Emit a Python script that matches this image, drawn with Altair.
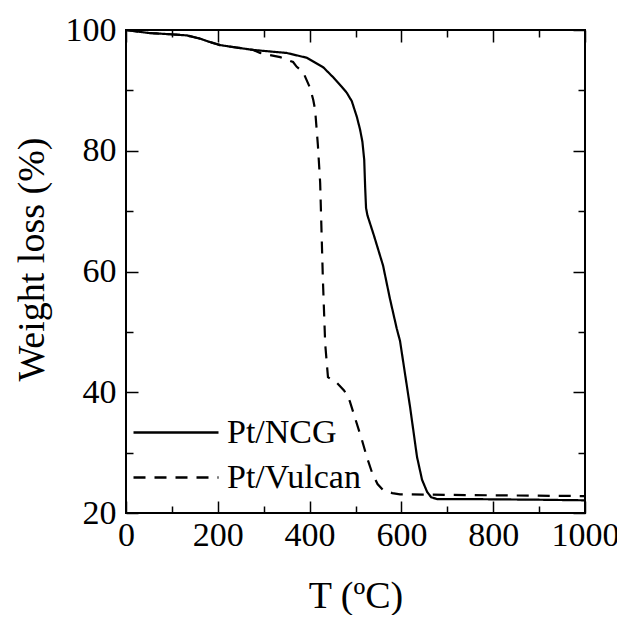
import altair as alt
import pandas as pd

series_names = ["Pt/NCG", "Pt/Vulcan"]

ncg_T = [0, 20, 50, 96, 133, 160, 183, 205, 240, 277, 320, 350, 394, 430, 451, 470, 481, 492, 503, 510, 515, 519, 521, 523, 526, 540, 560, 575, 590, 597, 608, 619, 634, 645, 656, 665, 678, 750, 900, 1000]
ncg_W = [100, 99.8, 99.5, 99.3, 99.1, 98.6, 98.0, 97.5, 97.1, 96.7, 96.4, 96.2, 95.4, 93.8, 92.2, 90.6, 89.6, 88.2, 85.6, 83.5, 81.5, 78.5, 74.0, 70.5, 69.3, 66.0, 61.0, 55.5, 50.5, 48.5, 43.0, 37.5, 29.3, 25.5, 23.5, 22.6, 22.3, 22.3, 22.2, 22.1]

vul_T = [0, 20, 50, 96, 133, 160, 183, 205, 240, 277, 292, 336, 364, 372, 386, 401, 408, 412, 418, 423, 429, 434, 440, 460, 475, 484, 488, 500, 514, 525, 536, 548, 560, 580, 597, 700, 1000]
vul_W = [100, 99.8, 99.5, 99.3, 99.1, 98.6, 98.0, 97.5, 97.1, 96.7, 96.2, 95.5, 94.7, 93.9, 93.0, 90.4, 88.4, 86.8, 81.0, 74.7, 58.6, 48.0, 42.5, 41.5, 40.3, 39.2, 38.4, 35.5, 32.1, 29.2, 26.7, 24.8, 23.8, 23.3, 23.1, 23.0, 22.8]

x_major = [0, 200, 400, 600, 800, 1000]
x_minor = [100, 300, 500, 700, 900]
y_major = [20, 40, 60, 80, 100]
y_minor = [30, 50, 70, 90]

df = pd.concat([
    pd.DataFrame({"T": ncg_T, "W": ncg_W, "series": series_names[0]}),
    pd.DataFrame({"T": vul_T, "W": vul_W, "series": series_names[1]}),
])

FONT = "Liberation Serif"
xs = alt.Scale(domain=[0, 1000], nice=False, zero=False)
ys = alt.Scale(domain=[20, 100], nice=False, zero=False)


def make_axis(values, size, orient, labels=False, title=None, label_pad=22, title_pad=20, **extra):
    kw = dict(values=values, orient=orient, domain=False, grid=False, labels=labels,
              tickSize=alt.ExprRef(expr=str(-size)), tickColor="black", tickWidth=1.5,
              labelFont=FONT, labelFontSize=34, labelColor="black", labelPadding=label_pad,
              labelFlush=False, labelOverlap=False, format="d")
    if title:
        kw.update(title=title, titleFont=FONT, titleFontSize=38, titleFontWeight="normal",
                  titleColor="black", titlePadding=title_pad)
    else:
        kw.update(title=None)
    kw.update(extra)
    return alt.Axis(**kw)


base = alt.Chart(df)

main = base.mark_line(color="black", strokeWidth=2.2).encode(
    x=alt.X("T:Q", scale=xs,
            axis=make_axis(x_major, 12, "bottom", labels=True, title="T (ºC)", label_pad=17, title_pad=25)),
    y=alt.Y("W:Q", scale=ys,
            axis=make_axis(y_major, 12, "left", labels=True, title="Weight loss (%)", label_pad=22,
                           title_pad=14, titleY=229)),
    strokeDash=alt.StrokeDash(
        "series:N",
        scale=alt.Scale(domain=series_names, range=[[1, 0], [12, 9]]),
        legend=alt.Legend(
            title=None, orient="none", legendX=6, legendY=380, padding=0,
            symbolType="stroke", symbolSize=7225, symbolStrokeWidth=2.4,
            symbolStrokeColor="black", labelFont=FONT, labelFontSize=34,
            labelColor="black", labelOffset=7, rowPadding=0, clipHeight=45,
        ),
    ),
    order="T:Q",
)


def ghost(xa, ya):
    return base.mark_line(opacity=0).encode(
        x=alt.X("T:Q", scale=xs, axis=xa),
        y=alt.Y("W:Q", scale=ys, axis=ya),
        detail="series:N",
    )


l2 = ghost(make_axis(x_minor, 7, "bottom"), make_axis(y_minor, 7, "left"))
l3 = ghost(make_axis(x_major, 12, "top"), make_axis(y_major, 12, "right"))
l4 = ghost(make_axis(x_minor, 7, "top"), make_axis(y_minor, 7, "right"))

chart = alt.layer(main, l2, l3, l4).resolve_axis(
    x="independent", y="independent"
).properties(
    width=459, height=483,
    autosize=alt.AutoSizeParams(type="none"),
    padding={"left": 118, "top": 22, "right": 32, "bottom": 102},
).configure_view(stroke="black", strokeWidth=2)

chart.save("out.html", embed_options={"renderer": "svg", "actions": False})
